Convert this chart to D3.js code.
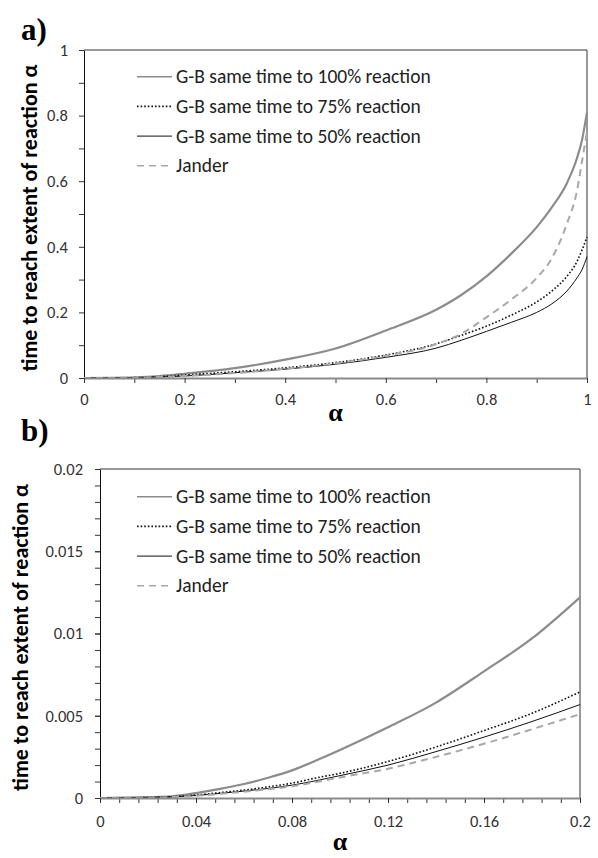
<!DOCTYPE html>
<html>
<head>
<meta charset="utf-8">
<script src="https://cdn.jsdelivr.net/npm/d3@7"></script>
<style>
  body { margin: 0; background: #fff; }
  svg { display: block; }
  .tick text { font-family: Carlito, "Open Sans", sans-serif; font-size: 16.5px; fill: #333; }
  .legend text { font-family: Carlito, "Open Sans", sans-serif; font-size: 19.5px; fill: #222; }
  .ytitle { font-family: Carlito, "Open Sans", sans-serif; font-size: 22px; font-weight: bold; }
  .xtitle, .panel-label { font-family: "Liberation Serif", "Times New Roman", serif; font-weight: bold; }
</style>
</head>
<body>
<svg id="chart" width="598" height="858"></svg>
<script>
// panel a: full range of alpha
const alphaA = [0, 0.05, 0.1, 0.15, 0.2, 0.3, 0.4, 0.5, 0.6, 0.7, 0.75, 0.8, 0.85, 0.9, 0.93, 0.96, 0.98, 0.99, 1];
const gb100A = [0, 0.0005, 0.002, 0.006, 0.013, 0.03, 0.056, 0.09, 0.145, 0.208, 0.253, 0.31, 0.38, 0.46, 0.52, 0.594, 0.67, 0.725, 0.81];
const gb75A = [0, 0.0003, 0.001, 0.004, 0.009, 0.019, 0.031, 0.047, 0.07, 0.104, 0.13, 0.158, 0.192, 0.232, 0.265, 0.31, 0.355, 0.39, 0.43];
const gb50A = [0, 0.0002, 0.001, 0.003, 0.006, 0.016, 0.027, 0.042, 0.063, 0.091, 0.115, 0.142, 0.17, 0.2, 0.226, 0.265, 0.305, 0.33, 0.37];
const janderA = [0, 0.0002, 0.001, 0.003, 0.006, 0.015, 0.028, 0.045, 0.068, 0.103, 0.135, 0.185, 0.24, 0.305, 0.365, 0.47, 0.57, 0.66, 0.75];

// panel b: zoom on alpha <= 0.2
const alphaB = [0, 0.01, 0.02, 0.03, 0.04, 0.05, 0.06, 0.07, 0.08, 0.09, 0.1, 0.12, 0.14, 0.16, 0.18, 0.2];
const gb100B = [0, 0.00002, 0.00005, 0.0001, 0.0003, 0.00055, 0.00085, 0.00123, 0.00168, 0.00228, 0.00292, 0.0043, 0.0058, 0.0077, 0.0097, 0.0122];
const gb75B = [0, 0.00001, 0.00003, 0.00008, 0.00018, 0.00033, 0.00048, 0.00068, 0.0009, 0.00122, 0.0015, 0.00222, 0.0031, 0.0041, 0.00515, 0.00645];
const gb50B = [0, 0.00001, 0.00003, 0.00007, 0.00015, 0.00028, 0.00042, 0.00058, 0.00078, 0.00105, 0.00136, 0.002, 0.00282, 0.0037, 0.00465, 0.00568];
const janderB = [0, 0.00001, 0.00002, 0.00006, 0.00013, 0.00025, 0.00038, 0.00053, 0.00071, 0.00097, 0.00125, 0.00178, 0.0025, 0.0033, 0.00418, 0.0051];

const seriesNames = [
  "G-B same time to 100% reaction",
  "G-B same time to 75% reaction",
  "G-B same time to 50% reaction",
  "Jander",
];

const xTicksA = [0, 0.2, 0.4, 0.6, 0.8, 1];
const yTicksA = [0, 0.2, 0.4, 0.6, 0.8, 1];
const xTicksB = [0, 0.04, 0.08, 0.12, 0.16, 0.2];
const yTicksB = [0, 0.005, 0.01, 0.015, 0.02];

const styles = [
  { stroke: "#8c8c8c", width: 2.2, dash: null },
  { stroke: "#111", width: 1.6, dash: "1.6,2" },
  { stroke: "#111", width: 1, dash: null },
  { stroke: "#a8a8a8", width: 2, dash: "7,5" },
];

const svg = d3.select("#chart");

function drawPanel(p) {
  const x = d3.scaleLinear().domain(p.xDomain).range([p.left, p.right]);
  const y = d3.scaleLinear().domain(p.yDomain).range([p.bottom, p.top]);

  const g = svg.append("g");

  // minor ticks
  g.append("g")
    .attr("transform", `translate(${p.left},0)`)
    .call(d3.axisLeft(y).tickValues(p.yMinor).tickSize(5).tickFormat(""))
    .call((a) => a.select(".domain").remove())
    .selectAll("line").attr("stroke", "#333");
  g.append("g")
    .attr("transform", `translate(0,${p.bottom})`)
    .call(d3.axisBottom(x).tickValues(p.xMinor).tickSize(5).tickFormat(""))
    .call((a) => a.select(".domain").remove())
    .selectAll("line").attr("stroke", "#333");

  // major axes
  const yAxis = g.append("g")
    .attr("transform", `translate(${p.left},0)`)
    .call(d3.axisLeft(y).tickValues(p.yTicks).tickSize(5).tickSizeOuter(0)
      .tickPadding(p.yPad).tickFormat(d3.format("~g")));
  yAxis.select(".domain").attr("stroke", "#111");
  yAxis.selectAll(".tick line").attr("stroke", "#333");

  const xAxis = g.append("g")
    .attr("transform", `translate(0,${p.bottom})`)
    .call(d3.axisBottom(x).tickValues(p.xTicks).tickSize(5).tickSizeOuter(0)
      .tickPadding(p.xPad).tickFormat(d3.format("~g")));
  xAxis.selectAll(".tick line").attr("stroke", "#333");

  // frame top and right
  g.append("path")
    .attr("d", `M${p.left},${p.top}H${p.right}V${p.bottom}`)
    .attr("fill", "none")
    .attr("stroke", "#333")
    .attr("stroke-width", 1);

  // curves
  const line = d3.line()
    .x((d) => x(d[0]))
    .y((d) => y(d[1]))
    .curve(d3.curveMonotoneX);

  p.series.forEach((vals, i) => {
    const s = styles[i];
    g.append("path")
      .datum(p.alpha.map((a, j) => [a, vals[j]]))
      .attr("d", line)
      .attr("fill", "none")
      .attr("stroke", s.stroke)
      .attr("stroke-width", s.width)
      .attr("stroke-dasharray", s.dash);
  });

  // x axis line on top (grey, like the original)
  xAxis.select(".domain").attr("stroke", "#8a8a8a").attr("stroke-width", 2);
  xAxis.raise();

  // legend
  const leg = g.append("g").attr("class", "legend");
  seriesNames.forEach((name, i) => {
    const s = styles[i];
    const ly = p.legendTop + i * 29.7;
    leg.append("line")
      .attr("x1", 137).attr("x2", 172)
      .attr("y1", ly).attr("y2", ly)
      .attr("stroke", s.stroke)
      .attr("stroke-width", Math.min(s.width, 1.6))
      .attr("stroke-dasharray", s.dash);
    leg.append("text")
      .attr("x", 176).attr("y", ly).attr("dy", "0.33em")
      .text(name);
  });

  // titles
  const cy = (p.top + p.bottom) / 2 + 4;
  g.append("text")
    .attr("class", "ytitle")
    .attr("transform", `translate(${p.yTitleX},${cy}) rotate(-90)`)
    .attr("text-anchor", "middle")
    .text("time to reach extent of reaction α");

  g.append("text")
    .attr("class", "xtitle")
    .attr("x", (p.left + p.right) / 2)
    .attr("y", p.xTitleY)
    .attr("text-anchor", "middle")
    .attr("font-size", 26)
    .text("α");

  g.append("text")
    .attr("class", "panel-label")
    .attr("x", p.labelX)
    .attr("y", p.labelY)
    .attr("font-size", 31)
    .text(p.label);
}

drawPanel({
  label: "a)", labelX: 21, labelY: 40,
  left: 84, right: 587, top: 50, bottom: 378,
  xDomain: [0, 1], yDomain: [0, 1],
  xTicks: xTicksA, yTicks: yTicksA,
  xMinor: d3.range(0.1, 1, 0.2), yMinor: d3.range(0.1, 1, 0.2),
  yPad: 11, xPad: 10,
  alpha: alphaA, series: [gb100A, gb75A, gb50A, janderA],
  legendTop: 76.7, yTitleX: 37, xTitleY: 421,
});

drawPanel({
  label: "b)", labelX: 21, labelY: 441,
  left: 100, right: 580, top: 469, bottom: 798,
  xDomain: [0, 0.2], yDomain: [0, 0.02],
  xTicks: xTicksB, yTicks: yTicksB,
  xMinor: d3.range(0, 0.2, 0.008), yMinor: d3.range(0, 0.02, 0.001),
  yPad: 12, xPad: 12,
  alpha: alphaB, series: [gb100B, gb75B, gb50B, janderB],
  legendTop: 496.7, yTitleX: 28, xTitleY: 850,
});
</script>
</body>
</html>
